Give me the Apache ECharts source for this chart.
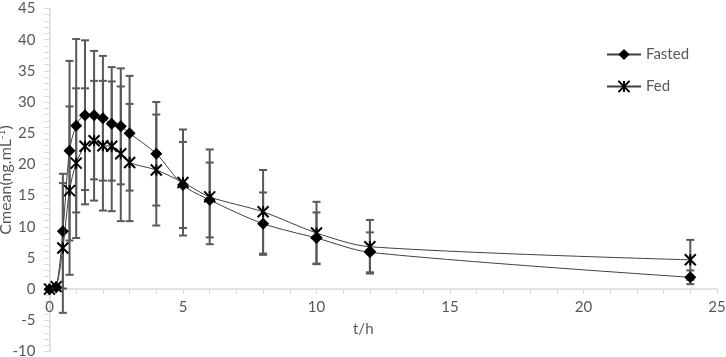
<!DOCTYPE html>
<html>
<head>
<meta charset="utf-8">
<script src="https://cdn.jsdelivr.net/npm/echarts@6/dist/echarts.min.js"></script>
<style>
  html, body { margin: 0; padding: 0; background: #fff; }
  #chart { width: 726px; height: 357px; }
</style>
</head>
<body>
<div id="chart"></div>
<script>
// sampling times (h)
var times = [0, 0.25, 0.5, 0.75, 1, 1.33, 1.67, 2, 2.33, 2.67, 3, 4, 5, 6, 8, 10, 12, 24]
// mean concentrations and SD (ng/mL)
var fasted = [0, 0.3, 9.3, 22.2, 26.2, 27.9, 27.9, 27.4, 26.5, 26.1, 25.0, 21.7, 16.7, 14.3, 10.5, 8.2, 5.9, 1.9]
var fastedSd = [0, 0.3, 9.2, 14.4, 13.9, 12.0, 10.3, 10.0, 9.1, 9.3, 9.2, 8.3, 6.9, 6.0, 5.0, 4.1, 3.2, 1.1]
var fed = [0, 0.4, 6.6, 15.8, 20.2, 22.9, 23.8, 23.0, 22.9, 21.7, 20.3, 19.1, 17.1, 14.8, 12.4, 9.0, 6.8, 4.7]
var fedSd = [0, 0.4, 10.4, 13.5, 12.0, 9.3, 9.6, 10.4, 10.4, 10.8, 9.4, 8.9, 8.5, 7.6, 6.7, 5.0, 4.3, 3.2]
var xTicks = [0, 5, 10, 15, 20, 25]
var yTicks = [-10, -5, 0, 5, 10, 15, 20, 25, 30, 35, 40, 45]

var font = 'Lato, "Open Sans", sans-serif'
var textColor = '#595959'
var axisColor = '#d9d9d9'

var gridTop = 8.5
var gridBottom = 5.5
var chartH = 357

function pairs(ys) {
  return times.map(function (t, i) { return [t, ys[i]] })
}
function bars(ys, sd) {
  return times.map(function (t, i) { return [t, ys[i] - sd[i], ys[i] + sd[i]] })
}

function renderBar(params, api) {
  var x = api.value(0)
  var top = api.coord([x, api.value(2)])
  var bot = api.coord([x, api.value(1)])
  var w = 4
  var style = { stroke: '#595959', lineWidth: 2 }
  return {
    type: 'group',
    children: [
      { type: 'line', shape: { x1: top[0], y1: top[1], x2: bot[0], y2: bot[1] }, style: style },
      { type: 'line', shape: { x1: top[0] - w, y1: top[1], x2: top[0] + w, y2: top[1] }, style: style },
      { type: 'line', shape: { x1: bot[0] - w, y1: bot[1], x2: bot[0] + w, y2: bot[1] }, style: style }
    ]
  }
}

// x axis crosses at y = 0: shift it up from the grid bottom by that distance
var yMin = yTicks[0]
var yMax = yTicks[yTicks.length - 1]
var plotH = chartH - gridTop - gridBottom
var zeroShift = plotH * (0 - yMin) / (yMax - yMin)

var chart = echarts.init(document.getElementById('chart'))
chart.setOption({
  animation: false,
  textStyle: { fontFamily: font },
  grid: { left: 49.5, right: 9, top: gridTop, bottom: gridBottom, containLabel: false, outerBoundsMode: 'none' },
  legend: {
    orient: 'vertical',
    left: 601,
    top: 42,
    itemWidth: 34,
    itemHeight: 14,
    itemGap: 17,
    textStyle: { color: textColor, fontSize: 15, fontFamily: font },
    data: ['Fasted', 'Fed']
  },
  xAxis: {
    type: 'value',
    min: xTicks[0],
    max: xTicks[xTicks.length - 1],
    interval: 5,
    offset: -zeroShift,
    name: 't/h',
    nameLocation: 'middle',
    nameGap: 33,
    nameMoveOverlap: false,
    nameTextStyle: { color: textColor, fontSize: 15, fontFamily: font, padding: [0, 40, 0, 0] },
    axisLine: { onZero: false, lineStyle: { color: axisColor, width: 1.5 } },
    axisTick: { show: true, length: 5, lineStyle: { color: axisColor } },
    minorTick: { show: true, splitNumber: 5, length: 5, lineStyle: { color: axisColor } },
    axisLabel: { color: textColor, fontSize: 15, margin: 11 },
    splitLine: { show: false }
  },
  yAxis: {
    type: 'value',
    min: yMin,
    max: yMax,
    interval: 5,
    name: '{a|Cmean(ng.mL}{b|-1}{a|)}',
    nameLocation: 'middle',
    nameGap: 35,
    nameMoveOverlap: false,
    nameTextStyle: {
      color: textColor,
      fontFamily: font,
      rich: {
        a: { fontSize: 16, color: textColor, fontFamily: font, lineHeight: 18 },
        b: { fontSize: 10, color: textColor, fontFamily: font, verticalAlign: 'top', lineHeight: 18 }
      }
    },
    axisLine: { show: true, onZero: false, lineStyle: { color: axisColor, width: 1.5 } },
    axisTick: { show: true, length: 5, lineStyle: { color: axisColor } },
    minorTick: { show: true, splitNumber: 5, length: 5, lineStyle: { color: axisColor } },
    axisLabel: { color: textColor, fontSize: 15, margin: 14 },
    splitLine: { show: false }
  },
  series: [
    {
      type: 'custom',
      name: 'fastedSd',
      renderItem: renderBar,
      data: bars(fasted, fastedSd),
      z: 1
    },
    {
      type: 'custom',
      name: 'fedSd',
      renderItem: renderBar,
      data: bars(fed, fedSd),
      z: 1
    },
    {
      name: 'Fasted',
      type: 'line',
      data: pairs(fasted),
      smooth: 0.3,
      clip: false,
      symbol: 'diamond',
      symbolSize: [12, 12],
      showAllSymbol: true,
      lineStyle: { color: '#404040', width: 1 },
      itemStyle: { color: '#000' },
      z: 3
    },
    {
      name: 'Fed',
      type: 'line',
      data: pairs(fed),
      smooth: 0.3,
      clip: false,
      symbol: 'path://M0,0L10,10M10,0L0,10M5,0L5,10',
      symbolSize: [11, 11],
      showAllSymbol: true,
      lineStyle: { color: '#404040', width: 1 },
      itemStyle: { color: '#000', borderColor: '#000', borderWidth: 2 },
      z: 4
    }
  ]
})
</script>
</body>
</html>
